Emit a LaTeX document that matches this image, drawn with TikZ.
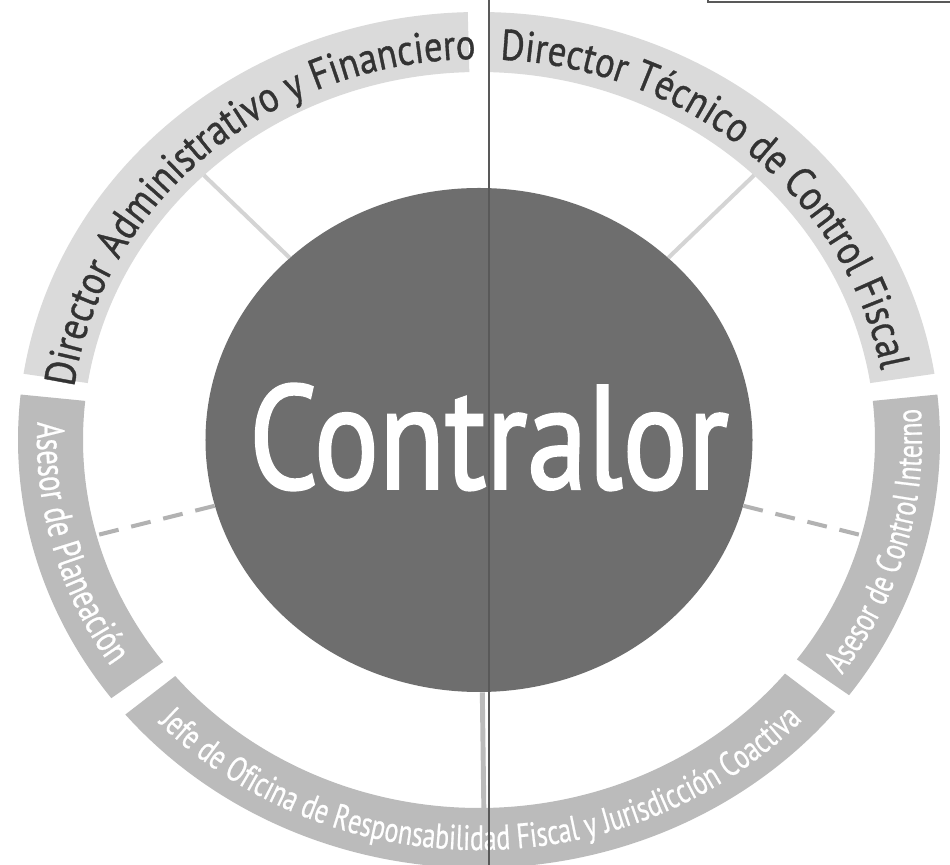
\documentclass[tikz,border=0pt]{standalone}
\usepackage{fontspec}
\setmainfont{PT Sans}
\newfontfamily\bandfont[FakeStretch=0.85, FakeBold=0.8]{PT Sans}
\newfontfamily\lowfont[FakeStretch=0.74, FakeBold=0.6]{PT Sans}
\newfontfamily\ctrfont[FakeStretch=0.82, FakeBold=1.6]{PT Sans}
\usetikzlibrary{shapes.geometric,decorations.text}
\definecolor{ctrgray}{HTML}{6E6E6E}
\definecolor{toplight}{HTML}{DADADA}
\definecolor{lowgray}{HTML}{BBBBBB}
\definecolor{topink}{HTML}{333333}
\definecolor{linkgray}{HTML}{D4D4D4}
\definecolor{dashgray}{HTML}{B2B2B2}
\newcommand\toplabel{\bandfont\fontsize{24.5}{26}\selectfont\color{topink}}
\newcommand\lowlabel{\lowfont\fontsize{20}{22}\selectfont\color{white}}
\newcommand\planlabel{\lowfont\fontsize{22}{24}\selectfont\color{white}}

\begin{document}
\begin{tikzpicture}[
  topband/.style={fill=toplight},
  lowband/.style={fill=lowgray},
  center/.style={ellipse, fill=ctrgray, minimum width=10.94cm, minimum height=10.08cm, inner sep=0pt},
  ctrlabel/.style={text=white, font=\ctrfont\fontsize{84}{84}\selectfont, inner sep=0pt},
  link/.style={draw=linkgray, line width=2.3pt},
  dashlink/.style={draw=dashgray, line width=2.3pt, dash pattern=on 0.4cm off 0.26cm},
  scanline/.style={draw=black!65, line width=0.6pt}
]
\useasboundingbox (-9.58,-8.5) rectangle (9.42,8.8);
\fill[white] (-9.58,-8.5) rectangle (9.42,8.8);

% 外环
\fill[topband] (91.4:9.22cm and 8.56cm) arc[start angle=91.4, end angle=171.1, x radius=9.22cm, y radius=8.56cm]
  -- (171.1:7.92cm and 7.36cm) arc[start angle=171.1, end angle=91.4, x radius=7.92cm, y radius=7.36cm] -- cycle;
\fill[topband] (8.9:9.22cm and 8.56cm) arc[start angle=8.9, end angle=88.6, x radius=9.22cm, y radius=8.56cm]
  -- (88.6:7.92cm and 7.36cm) arc[start angle=88.6, end angle=8.9, x radius=7.92cm, y radius=7.36cm] -- cycle;
\fill[lowband] (-36.6:9.22cm and 8.56cm) arc[start angle=-36.6, end angle=6.1, x radius=9.22cm, y radius=8.56cm]
  -- (6.1:7.92cm and 7.36cm) arc[start angle=6.1, end angle=-36.6, x radius=7.92cm, y radius=7.36cm] -- cycle;
\fill[lowband] (219.9:9.22cm and 8.56cm) arc[start angle=219.9, end angle=320.6, x radius=9.22cm, y radius=8.56cm]
  -- (320.6:7.92cm and 7.36cm) arc[start angle=320.6, end angle=219.9, x radius=7.92cm, y radius=7.36cm] -- cycle;
\fill[lowband] (173.9:9.22cm and 8.56cm) arc[start angle=173.9, end angle=217.1, x radius=9.22cm, y radius=8.56cm]
  -- (217.1:7.92cm and 7.36cm) arc[start angle=217.1, end angle=173.9, x radius=7.92cm, y radius=7.36cm] -- cycle;

% 环上的文字
\path[decorate, decoration={text along path, text align=center,
  text={|\toplabel|Director Administrativo y Financiero}}]
  (171.1:8.18cm and 7.62cm) arc[start angle=171.1, end angle=91.4, x radius=8.18cm, y radius=7.62cm];
\path[decorate, decoration={text along path, text align=center,
  text={|\toplabel|Director Técnico de Control Fiscal}}]
  (88.6:8.18cm and 7.62cm) arc[start angle=88.6, end angle=8.9, x radius=8.18cm, y radius=7.62cm];
\path[decorate, decoration={text along path, text align=center,
  text={|\lowlabel|Asesor de Control Interno}}]
  (-36.6:8.86cm and 8.2cm) arc[start angle=-36.6, end angle=6.1, x radius=8.86cm, y radius=8.2cm];
\path[decorate, decoration={text along path, text align=center,
  text={|\lowlabel|Jefe de Oficina de Responsabilidad Fiscal y Jurisdicción Coactiva}}]
  (219.9:8.86cm and 8.2cm) arc[start angle=219.9, end angle=320.6, x radius=8.86cm, y radius=8.2cm];
\path[decorate, decoration={text along path, text align=center,
  text={|\planlabel|Asesor de Planeación}}]
  (173.9:8.84cm and 8.18cm) arc[start angle=173.9, end angle=217.1, x radius=8.84cm, y radius=8.18cm];

% 中心圆
\node[center] (ctr) at (0,0) {};
\node[ctrlabel] (ctrtext) at (0.2,0.06) {Contralor};

% 连线的端点
\coordinate (tl) at (134:7.92cm and 7.36cm);
\coordinate (tr) at (46:7.92cm and 7.36cm);
\coordinate (pl) at (195:7.92cm and 7.36cm);
\coordinate (ci) at (-15:7.92cm and 7.36cm);
\coordinate (jf) at (-89.3:7.92cm and 7.36cm);

% 连线
\draw[link] (ctr) -- (tl);
\draw[link] (ctr) -- (tr);
\draw[link, draw=lowgray, line width=2.8pt] (ctr) -- (jf);
\draw[dashlink] (ctr) -- (pl);
\draw[dashlink] (ctr) -- (ci);

% 扫描线
\draw[scanline] (0.2,8.8) -- (0.2,-8.5);
\draw[scanline, line width=1pt] (4.58,8.8) -- (4.58,8.76) -- (9.42,8.76);
\end{tikzpicture}
\end{document}
